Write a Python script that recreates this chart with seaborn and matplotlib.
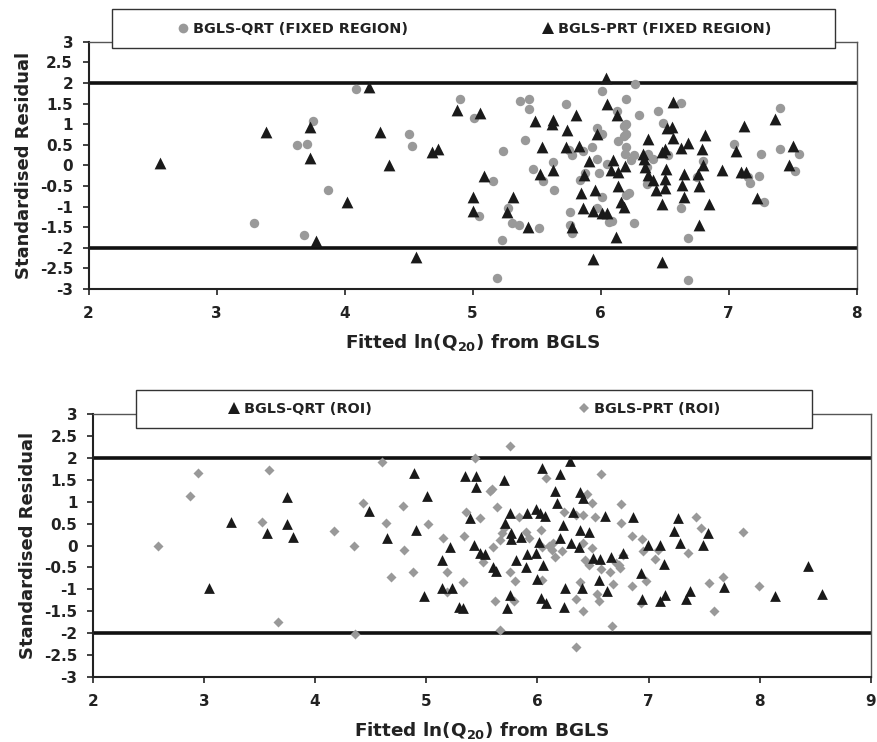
import matplotlib
matplotlib.use("Agg")
import matplotlib.pyplot as plt
import seaborn as sns
import pandas as pd
from matplotlib.patches import Rectangle
from matplotlib.lines import Line2D

# ---------------- data ----------------
top_qrt_x = [4.09, 3.75, 3.63, 3.71, 3.87, 3.29, 3.68,
             4.90, 5.01, 4.50, 4.525, 5.16, 5.24, 5.05, 5.28, 5.31, 5.36, 5.52, 5.23, 5.19,
             5.37, 5.44, 5.44, 5.41, 5.47, 5.55, 5.63, 5.64, 5.73, 5.75, 5.78, 5.86, 5.76,
             5.76, 5.78, 5.88, 5.84, 5.93, 5.97, 6.01, 5.97, 5.99, 6.05, 6.01, 5.97, 6.07, 6.01,
             6.27, 6.20, 6.30, 6.13, 6.45, 6.63, 6.49, 6.18, 6.20, 6.20, 6.18, 6.14, 6.20, 6.19,
             6.26, 6.24, 6.37, 6.41, 6.53, 6.36, 6.36, 6.22, 6.20, 6.09, 6.26, 6.63, 6.68, 6.68,
             6.75, 6.80, 7.04, 7.25, 7.24, 7.17, 7.15, 7.28, 7.40, 7.40, 7.55, 7.52]
top_qrt_y = [1.85, 1.07, 0.50, 0.53, -0.59, -1.41, -1.68,
             1.62, 1.14, 0.76, 0.46, -0.37, 0.35, -1.23, -1.03, -1.40, -1.45, -1.53, -1.82, -2.73,
             1.56, 1.62, 1.36, 0.61, -0.10, -0.37, 0.09, -0.59, 1.48, 0.38, 0.25, 0.36, -1.12,
             -1.45, -1.63, -0.18, -0.36, 0.45, 0.91, 0.76, 0.16, -0.19, 0.04, -0.78, -1.04, -1.37, 1.81,
             1.97, 1.62, 1.22, 1.33, 1.33, 1.51, 1.03, 0.96, 1.00, 0.76, 0.70, 0.58, 0.44, 0.28,
             0.26, 0.14, 0.28, 0.16, 0.24, -0.04, -0.46, -0.67, -0.72, -1.34, -1.41, -1.04, -1.77, -2.77,
             -0.28, 0.10, 0.51, 0.27, -0.26, -0.44, -0.28, -0.90, 1.40, 0.39, 0.27, -0.14]

top_prt_x = [2.556, 3.39, 3.73, 3.73, 4.02, 3.78,
             4.19, 4.28, 4.35, 4.68, 4.73, 4.56, 4.88, 5.06, 5.09, 5.00, 5.00, 5.32, 5.27, 5.43,
             5.49, 5.63, 5.62, 5.74, 5.81, 5.54, 5.73, 5.83, 5.53, 5.63, 5.91, 5.87, 5.97, 5.85,
             5.96, 5.86, 5.94, 6.01, 6.05, 5.78, 5.94, 6.04, 6.05,
             6.13, 6.095, 6.08, 6.14, 6.19, 6.14, 6.16, 6.18, 6.12, 6.37, 6.33, 6.34, 6.35, 6.37,
             6.41, 6.43, 6.48, 6.50, 6.51, 6.50, 6.50, 6.48, 6.48, 6.52, 6.56, 6.57, 6.57, 6.63,
             6.68, 6.65, 6.64, 6.65, 6.76, 6.77, 6.79, 6.80, 6.82, 6.85, 6.77, 6.95, 7.12, 7.06,
             7.10, 7.14, 7.22, 7.36, 7.50, 7.475]
top_prt_y = [0.055, 0.82, 0.92, 0.18, -0.88, -1.83,
             1.89, 0.82, 0.02, 0.32, 0.40, -2.23, 1.34, 1.27, -0.27, -0.76, -1.11, -0.76, -1.13, -1.49,
             1.08, 1.10, 1.00, 0.86, 1.22, 0.44, 0.44, 0.47, -0.20, -0.12, 0.10, -0.24, 0.76, -0.66,
             -0.61, -1.03, -1.11, -1.16, -1.16, -1.49, -2.27, 2.13, 1.50,
             1.22, 0.14, -0.12, -0.16, -0.02, -0.51, -0.88, -1.00, -1.75, 0.63, 0.28, 0.16, -0.04, -0.24,
             -0.36, -0.60, 0.32, 0.40, -0.08, -0.32, -0.56, -0.94, -2.34, 0.90, 0.92, 1.54, 0.66, 0.43,
             0.55, -0.20, -0.47, -0.76, -0.22, -0.50, 0.40, 0.00, 0.74, -0.94, -1.45, -0.12, 0.96, 0.36,
             -0.16, -0.16, -0.80, 1.12, 0.48, 0.02]

bot_qrt_x = [3.745, 3.24, 3.745, 3.57, 3.80, 3.05,
             4.89, 5.01, 4.485, 4.905, 4.65, 4.98, 5.21, 5.14, 5.14, 5.23, 5.29, 5.33, 5.35, 5.45,
             5.45, 5.70, 5.39, 5.43, 5.48, 5.53, 5.60, 5.63, 5.71, 5.75, 5.76, 5.76, 5.75, 5.73,
             5.81, 5.91, 5.90, 5.91, 5.85, 5.99, 6.02, 6.07, 5.99, 6.01, 6.00, 6.05, 6.03, 6.08,
             6.04, 6.20, 6.29, 6.16, 6.18, 6.23, 6.20, 6.30, 6.32, 6.37, 6.38, 6.41, 6.38, 6.46,
             6.61, 6.25, 6.24, 6.40, 6.55, 6.63, 6.50, 6.56, 6.66,
             6.77, 6.86, 6.99, 7.10, 7.14, 6.93, 6.94, 7.10, 7.15, 7.23, 7.26, 7.28, 7.34, 7.37,
             7.49, 7.53, 7.68, 8.14, 8.43, 8.56]
bot_qrt_y = [1.10, 0.53, 0.48, 0.29, 0.20, -0.98,
             1.65, 1.13, 0.79, 0.35, 0.16, -1.15, -0.03, -0.33, -0.98, -0.98, -1.40, -1.42, 1.59, 1.59,
             1.34, 1.49, 0.62, 0.01, -0.18, -0.20, -0.48, -0.58, 0.51, 0.75, 0.28, 0.14, -1.14, -1.42,
             -0.33, 0.75, -0.48, -0.20, 0.20, 0.83, 0.75, 0.67, -0.16, 0.09, -0.76, -0.44, -1.19, -1.32,
             1.76, 1.62, 1.93, 1.24, 0.96, 0.47, 0.16, 0.05, 0.77, -0.03, 1.21, 1.09, 0.35, 0.31,
             0.67, -0.98, -1.40, -0.98, -0.79, -1.04, -0.28, -0.31, -0.26,
             -0.18, 0.64, 0.01, 0.01, -0.43, -0.63, -1.22, -1.27, -1.14, 0.33, 0.63, 0.05, -1.23, -1.04,
             0.01, 0.29, -0.95, -1.15, -0.46, -1.11]

bot_prt_x = [2.95, 3.585, 2.875, 3.52, 2.59, 4.17, 4.35, 3.67, 4.36,
             5.75, 5.44, 4.60, 6.57, 6.08, 5.57, 5.59, 4.43, 4.79, 5.36, 5.64, 4.64, 5.02, 5.48,
             5.83, 4.80, 5.15, 5.34, 4.68, 4.88, 5.19, 5.19, 5.33, 5.51, 5.60, 5.66, 5.68, 5.70,
             5.75, 5.80, 5.62, 5.66, 5.79, 5.90, 5.92, 6.03, 6.04, 6.04, 6.10, 6.14, 6.13, 6.16,
             6.22, 6.24, 6.35, 6.41, 6.52, 6.45, 6.49, 6.41, 6.43, 6.46, 6.49, 6.57, 6.38, 6.35,
             6.41, 6.35, 6.54, 6.55, 6.67, 6.65, 6.68, 6.75, 6.75, 6.73,
             6.85, 6.94, 6.95, 6.77, 6.71, 6.74, 6.85, 6.98, 6.93, 7.06, 7.08, 7.35, 7.43, 7.47,
             7.54, 7.59, 7.67, 7.85, 7.99]
bot_prt_y = [1.65, 1.72, 1.13, 0.54, -0.01, 0.32, -0.01, -1.75, -2.03,
             2.28, 2.00, 1.91, 1.63, 1.53, 1.25, 1.30, 0.96, 0.91, 0.77, 0.88, 0.52, 0.49, 0.62,
             0.64, -0.10, 0.16, 0.21, -0.73, -0.60, -0.60, -1.07, -0.84, -0.38, -0.03, 0.12, 0.28, 0.39,
             -0.60, -0.81, -1.27, -1.93, -1.27, 0.30, 0.16, 0.35, -0.04, -0.79, 0.00, 0.05, -0.10, -0.26,
             -0.12, 0.77, 0.70, 0.70, 0.64, 1.17, 0.98, 0.05, -0.33, -0.44, -0.06, -0.54, -0.84, -1.22,
             -1.49, -2.31, -1.11, -1.27, -1.83, -0.61, -0.88, 0.52, 0.95, -0.44,
             0.22, 0.14, -0.12, -0.22, -0.41, -0.51, -0.92, -0.81, -1.32, -0.31, -0.10, -0.16, 0.64, 0.39,
             -0.85, -1.49, -0.73, 0.30, -0.92]

top_labels = ["BGLS-QRT (FIXED REGION)", "BGLS-PRT (FIXED REGION)"]
bot_labels = ["BGLS-QRT (ROI)", "BGLS-PRT (ROI)"]
y_ticks = [-3, -2.5, -2, -1.5, -1, -0.5, 0, 0.5, 1, 1.5, 2, 2.5, 3]
top_x_ticks = [2, 3, 4, 5, 6, 7, 8]
bot_x_ticks = [2, 3, 4, 5, 6, 7, 8, 9]
limit_lines = [-2, 2]
x_label = r"Fitted ln(Q$_{20}$) from BGLS"
y_label = "Standardised Residual"

# ---------------- style ----------------
sns.set_style("white")
plt.rcParams["font.family"] = ["DejaVu Sans"]
plt.rcParams["font.weight"] = "bold"
plt.rcParams["mathtext.fontset"] = "custom"
plt.rcParams["mathtext.rm"] = "DejaVu Sans:bold"
plt.rcParams["mathtext.it"] = "DejaVu Sans:bold"
plt.rcParams["mathtext.bf"] = "DejaVu Sans:bold"
plt.rcParams["mathtext.default"] = "rm"

GRAY = "#999999"
BLACK = "#1a1a1a"
TEXT = "#222222"
W, H = 877, 742
fig = plt.figure(figsize=(W / 100, H / 100), dpi=100)

ax1 = fig.add_axes([88.5 / W, 1 - 289 / H, (856.5 - 88.5) / W, (289 - 41.7) / H])
ax2 = fig.add_axes([92.7 / W, 1 - 677 / H, (871 - 92.7) / W, (677 - 414) / H])

df_top = pd.concat([
    pd.DataFrame({"x": top_qrt_x, "y": top_qrt_y, "s": top_labels[0]}),
    pd.DataFrame({"x": top_prt_x, "y": top_prt_y, "s": top_labels[1]}),
])
df_bot = pd.concat([
    pd.DataFrame({"x": bot_qrt_x, "y": bot_qrt_y, "s": bot_labels[0]}),
    pd.DataFrame({"x": bot_prt_x, "y": bot_prt_y, "s": bot_labels[1]}),
])

sns.scatterplot(data=df_top[df_top.s == top_labels[0]], x="x", y="y", ax=ax1,
                color=GRAY, marker="o", s=46, linewidth=0, legend=False, zorder=3)
sns.scatterplot(data=df_top[df_top.s == top_labels[1]], x="x", y="y", ax=ax1,
                color=BLACK, marker="^", s=72, linewidth=0, legend=False, zorder=4)
sns.scatterplot(data=df_bot[df_bot.s == bot_labels[0]], x="x", y="y", ax=ax2,
                color=BLACK, marker="^", s=60, linewidth=0, legend=False, zorder=4)
sns.scatterplot(data=df_bot[df_bot.s == bot_labels[1]], x="x", y="y", ax=ax2,
                color=GRAY, marker="D", s=26, linewidth=0, legend=False, zorder=3)

def style_axis(ax, xticks):
    ax.set_xlim(xticks[0], xticks[-1])
    ax.set_ylim(-3, 3)
    for v in limit_lines:
        ax.axhline(v, color="#111111", lw=2.6, zorder=2)
    ax.set_xticks(xticks)
    ax.set_xticklabels([str(t) for t in xticks])
    ax.set_yticks(y_ticks)
    ax.set_yticklabels([f"{t:g}" for t in y_ticks])
    ax.tick_params(axis="both", direction="out", length=4, width=1.2, color="#222222",
                   labelsize=11, labelcolor=TEXT, left=True, bottom=True)
    ax.tick_params(axis="x", pad=8)
    ax.tick_params(axis="y", pad=7)
    for lab in ax.get_xticklabels() + ax.get_yticklabels():
        lab.set_fontweight("bold")
    for side in ["left", "bottom"]:
        ax.spines[side].set_color("#222222")
        ax.spines[side].set_linewidth(1.5)
    for side in ["top", "right"]:
        ax.spines[side].set_color("#555555")
        ax.spines[side].set_linewidth(1.0)
    ax.set_xlabel(x_label, fontsize=13.2, fontweight="bold", labelpad=8, color=TEXT)
    ax.set_ylabel(y_label, fontsize=13, fontweight="bold", labelpad=5, color=TEXT)

style_axis(ax1, top_x_ticks)
style_axis(ax2, bot_x_ticks)

# legend boxes (figure coordinates)
def legend_box(x0, y0, x1, y1, handles, labels, colspace):
    fig.patches.append(Rectangle((x0 / W, 1 - y1 / H), (x1 - x0) / W, (y1 - y0) / H,
                                 transform=fig.transFigure, facecolor="white",
                                 edgecolor="#333333", lw=1.0, zorder=5))
    leg = fig.legend(handles, labels, loc="center", ncol=2,
                     bbox_to_anchor=((x0 + x1) / 2 / W, 1 - (y0 + y1) / 2 / H),
                     frameon=False, fontsize=10.4, columnspacing=colspace,
                     handletextpad=0.2, handlelength=1.0, borderaxespad=0)
    for t in leg.get_texts():
        t.set_fontweight("bold")
        t.set_color(TEXT)
    leg.set_zorder(6)

h_top = [Line2D([], [], ls="none", marker="o", color=GRAY, markersize=7, markeredgewidth=0),
         Line2D([], [], ls="none", marker="^", color=BLACK, markersize=8, markeredgewidth=0)]
legend_box(111.7, 9.3, 835, 48.3, h_top, top_labels, 9.2)
h_bot = [Line2D([], [], ls="none", marker="^", color=BLACK, markersize=8, markeredgewidth=0),
         Line2D([], [], ls="none", marker="D", color=GRAY, markersize=5, markeredgewidth=0)]
legend_box(135.7, 390, 811.7, 428.3, h_bot, bot_labels, 14.2)

fig.savefig("out.png", dpi=100, facecolor="white")
